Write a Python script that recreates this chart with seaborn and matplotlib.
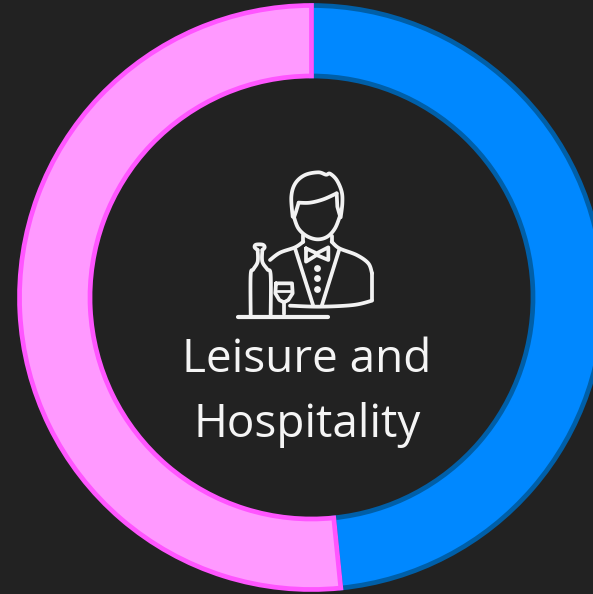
import numpy as np
import matplotlib
matplotlib.use('Agg')
import matplotlib.pyplot as plt
import seaborn as sns

shares = [48.4, 51.6]
fill_colors = ['#0088FF', '#FF99FF']
edge_colors = ['#005FA8', '#FF55FF']
label_lines = ['Leisure and', 'Hospitality']

BG = '#222222'
ICON = '#F2F2F2'

sns.set_theme(style='white')
plt.rcParams['font.family'] = ['Open Sans', 'DejaVu Sans']

fig = plt.figure(figsize=(5.93, 5.94), dpi=100, facecolor=BG)
ax = fig.add_axes([0, 0, 1, 1])
ax.set_facecolor(BG)

wedges, _ = ax.pie(shares, colors=fill_colors, startangle=90, counterclock=False,
                   center=(311.5, 296.5), radius=292,
                   wedgeprops={'width': 70.5, 'linewidth': 3.4})
for w, c in zip(wedges, edge_colors):
    w.set_edgecolor(c)
ax.set_xlim(0, 593)
ax.set_ylim(0, 594)
ax.axis('off')


def px(pts):
    # icon points are measured in a 3x crop starting at (220, 160)
    pts = np.array(pts, dtype=float)
    return pts[:, 0] / 3 + 220, 594 - (pts[:, 1] / 3 + 160)


def smooth(pts, n=12):
    # catmull-rom through the points so the outlines are not jagged
    p = np.array(pts, dtype=float)
    p = np.vstack([p[0], p, p[-1]])
    out = []
    for i in range(1, len(p) - 2):
        for t in np.linspace(0, 1, n, endpoint=False):
            out.append(0.5 * (2 * p[i] + (p[i + 1] - p[i - 1]) * t
                              + (2 * p[i - 1] - 5 * p[i] + 4 * p[i + 1] - p[i + 2]) * t ** 2
                              + (3 * p[i] - p[i - 1] - 3 * p[i + 1] + p[i + 2]) * t ** 3))
    out.append(p[-1])
    return out


def stroke(pts, curved=False, lw=2.7):
    x, y = px(smooth(pts) if curved else pts)
    ax.plot(x, y, color=ICON, lw=lw, solid_capstyle='round', solid_joinstyle='round')


# head
stroke([(218, 170), (214, 110), (226, 70), (255, 45), (295, 37), (318, 44), (330, 41),
        (350, 60), (365, 95), (367, 130), (362, 172)], curved=True)
stroke([(222, 172), (235, 205), (260, 228), (292, 238), (322, 230), (345, 205), (360, 168)], curved=True)
stroke([(222, 172), (228, 155), (236, 128)])
stroke([(236, 128), (270, 128), (310, 118), (350, 100)], curved=True)
stroke([(350, 100), (352, 140), (360, 168)])
# shoulders and jacket
stroke([(250, 226), (250, 245)])
stroke([(335, 228), (335, 245)])
stroke([(250, 245), (225, 262), (180, 278), (150, 300)], curved=True)
stroke([(335, 245), (358, 265), (410, 285), (445, 310), (456, 340)], curved=True)
stroke([(456, 340), (456, 420)])
stroke([(456, 422), (400, 435), (300, 440), (210, 437)], curved=True)
stroke([(225, 265), (280, 438)])
stroke([(358, 268), (305, 438)])
# bow tie and buttons
stroke([(258, 265), (290, 280), (325, 262), (325, 300), (290, 285), (258, 305), (258, 265)])
bx, by = px([(291, 323), (291, 355), (291, 387)])
ax.scatter(bx, by, s=24, color=ICON, linewidths=0)
# bottle
stroke([(92, 465), (92, 345), (100, 328), (113, 305), (113, 270)], curved=True)
stroke([(152, 465), (152, 345), (142, 328), (127, 305), (127, 270)], curved=True)
stroke([(113, 270), (104, 262), (108, 254), (128, 254), (134, 262), (127, 270)], curved=True)
# glass
stroke([(168, 370), (216, 370), (218, 400), (205, 420), (192, 427), (178, 420), (166, 400), (168, 370)])
stroke([(170, 392), (215, 392)], lw=2.0)
stroke([(192, 427), (192, 462)])
# shelf
stroke([(55, 470), (325, 470)], lw=3.0)

ax.text(307, 594 - 360, label_lines[0], color='#F5F5F5', fontsize=33, ha='center', va='center')
ax.text(307, 594 - 425, label_lines[1], color='#F5F5F5', fontsize=33, ha='center', va='center')

fig.savefig('out.png', dpi=100, facecolor=BG)
plt.close(fig)
